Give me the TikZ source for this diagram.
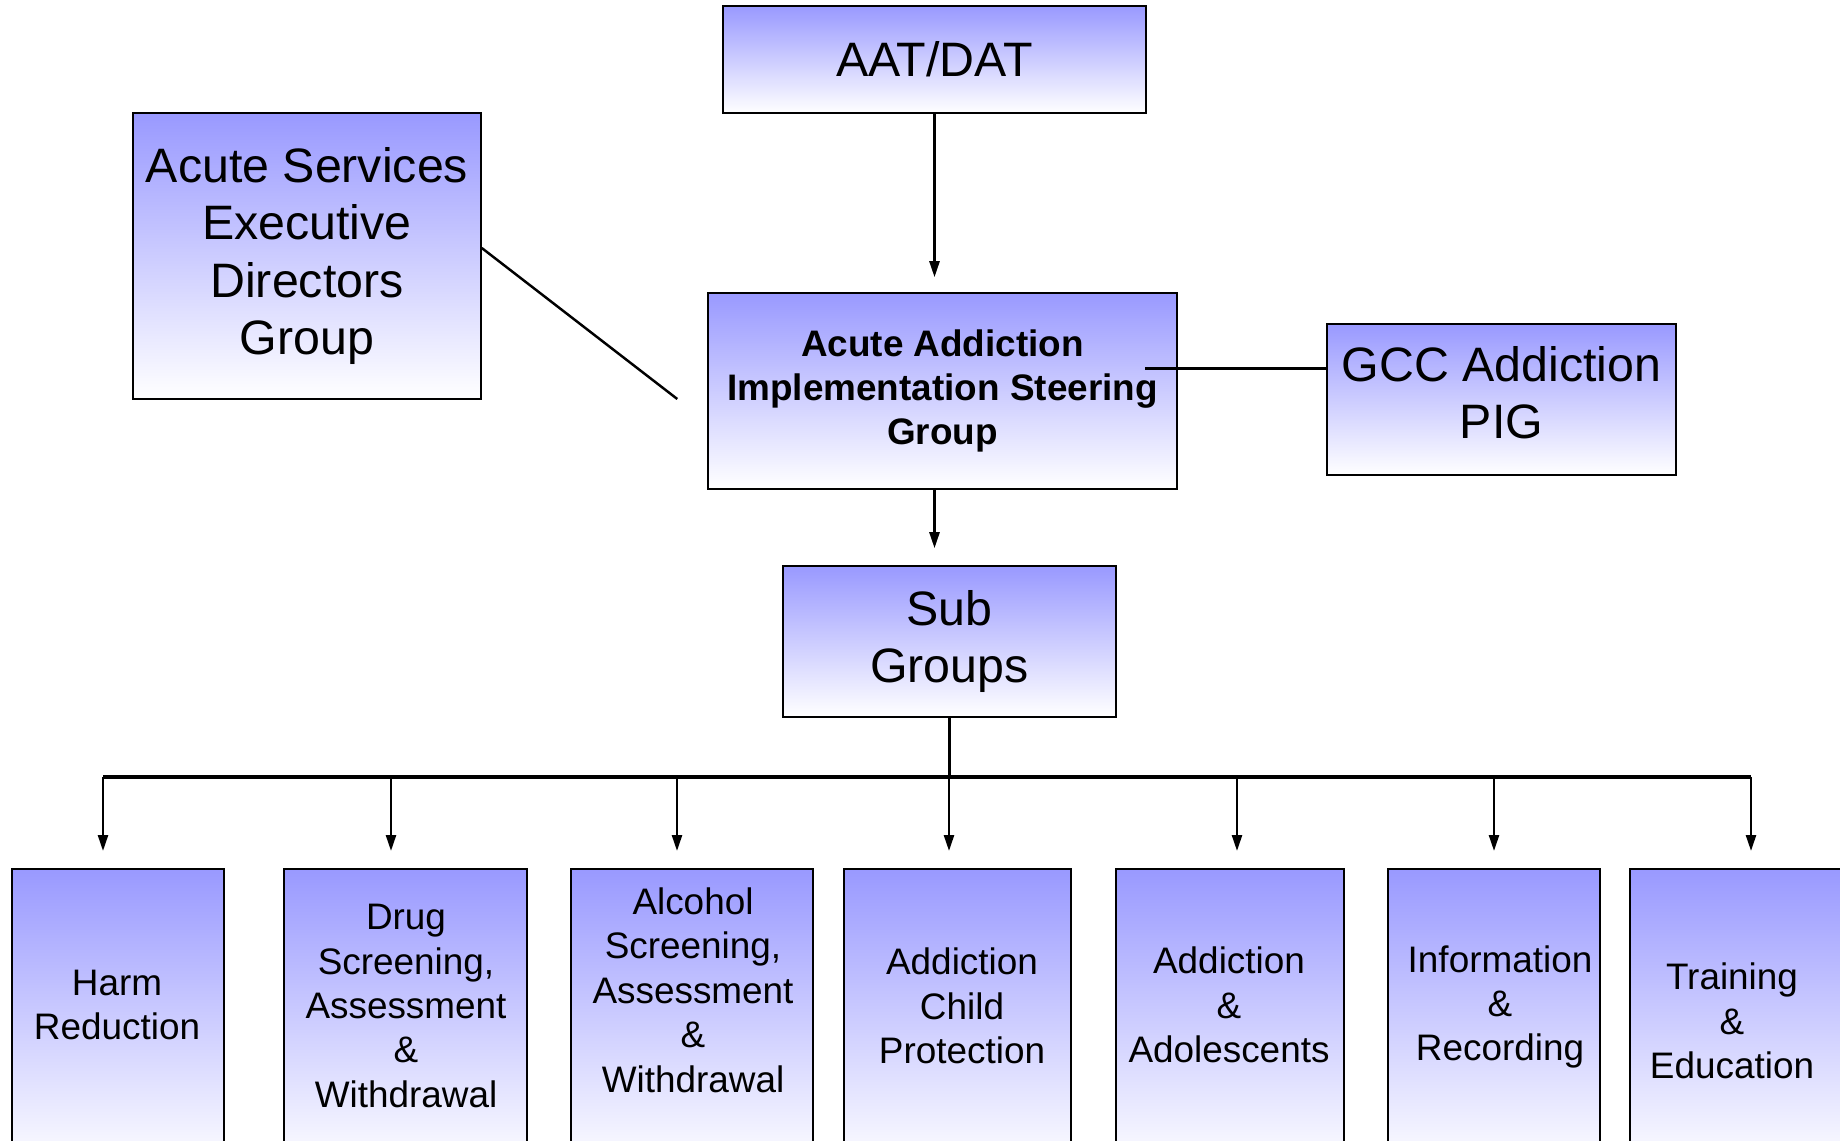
\documentclass[tikz,border=0pt]{standalone}
\usepackage{fontspec}
\setmainfont{Liberation Sans}
\usetikzlibrary{arrows.meta}
\usetikzlibrary{positioning}
\definecolor{boxblue}{RGB}{153,153,255}

\begin{document}
\begin{tikzpicture}[x=0.02cm,y=-0.02cm,
  box/.style={draw=black,line width=0.9pt,top color=boxblue,bottom color=white,align=center,inner sep=0pt},
  bigtext/.style={font=\fontsize{27.5}{32.6}\selectfont},
  smalltext/.style={font=\fontsize{21}{25.3}\selectfont,align=center},
  subbox/.style={box,anchor=north,minimum height=6cm},
  arr/.style={line width=1.4pt,-{Triangle[length=0.32cm,width=0.2cm]}}]
\useasboundingbox (0,0) rectangle (1840,1141);

\node[box,bigtext,minimum width=8.46cm,minimum height=2.14cm] (aat) at (934.5,59.5) {AAT/DAT};
\node[box,bigtext,minimum width=6.96cm,minimum height=5.72cm] (asedg) at (307,256) {Acute Services\\Executive\\Directors\\Group};
\node[box,font=\fontsize{21}{25.3}\selectfont\bfseries,minimum width=9.38cm,minimum height=3.92cm] (steer) at (942.5,391) {Acute Addiction\\Implementation Steering\\Group};
\node[box,bigtext,minimum width=6.98cm,minimum height=3.02cm] (gcc) at (1501.5,399.5) {GCC Addiction\\PIG\rule[-8pt]{0pt}{8pt}};
\node[box,bigtext,minimum width=6.66cm,minimum height=3.02cm] (sub) at (949.5,641.5) {Sub\\Groups};

\node[subbox,minimum width=4.24cm] (harm) at (118,868) {};
\node[subbox,minimum width=4.86cm] (drug) at (405.5,868) {};
\node[subbox,minimum width=4.84cm] (alcohol) at (692,868) {};
\node[subbox,minimum width=4.54cm] (child) at (957.5,868) {};
\node[subbox,minimum width=4.56cm] (adol) at (1230,868) {};
\node[subbox,minimum width=4.24cm] (info) at (1494,868) {};
\node[subbox,minimum width=4.24cm] (train) at (1736,868) {};

\node[smalltext] (harmtxt) at (117,1005) {Harm\\Reduction};
\node[smalltext] (drugtxt) at (406,1006) {Drug\\Screening,\\Assessment\\\&\\Withdrawal};
\node[smalltext] (alcoholtxt) at (693,990) {Alcohol\\Screening,\\Assessment\\\&\\Withdrawal};
\node[smalltext] (childtxt) at (962,1006) {Addiction\\Child\\Protection};
\node[smalltext] (adoltxt) at (1229,1005) {Addiction\\\&\\Adolescents};
\node[smalltext] (infotxt) at (1500,1007) {Information\\\&\\Recording};
\node[smalltext] (traintxt) at (1732,1021) {Training\\\&\\Education};

\draw[arr,shorten >=0.3cm] (aat.south) -- (aat.south |- steer.north);
\draw[arr,shorten >=0.34cm] (aat.south |- steer.south) -- (aat.south |- sub.north);
\draw[line width=1.4pt] ([yshift=0.16cm]asedg.east) -- ([xshift=-0.6cm,yshift=-0.16cm]steer.west);
\draw[line width=1.8pt] ([yshift=0.62cm]gcc.west) -- ++(-181,0);

\coordinate (busl) at (103,777);
\coordinate (busr) at (1751,777);
\draw[line width=1.4pt] (sub.south) -- (sub.south |- busl);
\draw[line width=2.2pt] (busl) -- (busr);
\foreach \x/\n in {103/harm,391/drug,677/alcohol,949/child,1237/adol,1494/info,1751/train}
  \draw[arr,shorten >=0.34cm] (\x,777) -- (\x,777 |- \n.north);

\end{tikzpicture}
\end{document}
